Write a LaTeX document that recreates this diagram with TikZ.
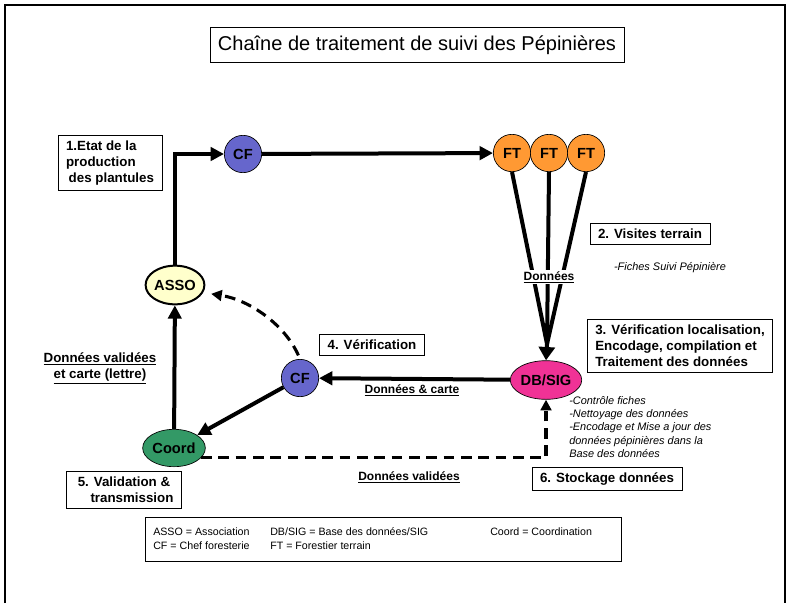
\documentclass[tikz,border=0pt]{standalone}
\usepackage{fontspec}
\setmainfont{Liberation Sans}
\usetikzlibrary{arrows.meta,shapes.geometric}

\definecolor{cfbleu}{RGB}{102,102,204}
\definecolor{ftorange}{RGB}{255,153,51}
\definecolor{dbrose}{RGB}{240,50,150}
\definecolor{assojaune}{RGB}{255,255,204}
\definecolor{coordvert}{RGB}{51,153,102}

\tikzset{
  titre/.style={draw, line width=0.6pt, inner xsep=6pt, inner ysep=6pt, font=\fontsize{15}{17}\selectfont},
  etape/.style={draw, fill=white, line width=0.6pt, align=left, inner xsep=6pt, inner ysep=4pt, font=\bfseries\fontsize{10}{12}\selectfont},
  rond/.style={circle, draw, line width=0.5pt, minimum size=28pt, inner sep=0pt, font=\bfseries\fontsize{11}{13}\selectfont},
  ovale/.style={ellipse, draw, line width=0.5pt, inner sep=0pt, font=\bfseries\fontsize{11}{13}\selectfont},
  fleche/.style={line width=3pt, -{Triangle[length=10pt,width=10pt]}},
  tirets/.style={line width=2.3pt, dash pattern=on 8pt off 5pt, -{Triangle[length=8pt,width=8pt]}},
  donnees/.style={font=\bfseries\fontsize{9}{12}\selectfont, align=center},
  note/.style={font=\itshape\fontsize{8.2}{10}\selectfont, align=left, inner sep=0pt},
  legende/.style={anchor=west, font=\fontsize{8}{10}\selectfont, inner sep=0pt}
}

\begin{document}
\begin{tikzpicture}[x=0.75pt,y=-0.75pt]
  \useasboundingbox (0,0) rectangle (791,603);
  %cadre
  \draw[line width=1.5pt] (5,603) -- (5,5) -- (785,5) -- (785,603);
  \node[titre] (titre) at (417,45) {Chaîne de traitement de suivi des Pépinières};

  %acteurs
  \node[rond, fill=cfbleu] (cfhaut) at (243,154) {CF};
  \node[rond, fill=ftorange] (ft1) at (512,153) {FT};
  \node[rond, fill=ftorange] (ft2) at (549,153) {FT};
  \node[rond, fill=ftorange] (ft3) at (586,153) {FT};
  \node[ovale, fill=dbrose, minimum width=51pt, minimum height=29pt] (dbsig) at (546,380) {DB/SIG};
  \node[rond, fill=cfbleu] (cfmilieu) at (300,378) {CF};
  \node[ovale, fill=assojaune, line width=1.5pt, minimum width=43pt, minimum height=29pt] (asso) at (175,285) {ASSO};
  \node[ovale, fill=coordvert, minimum width=47pt, minimum height=28pt] (coord) at (174,448) {Coord};

  %fleches
  \draw[fleche] (asso.north) |- (cfhaut.west);
  \draw[fleche] (cfhaut) -- (ft1);
  \coordinate (jonction) at (547,344);
  \draw[line width=3pt] (ft1.south) -- (jonction);
  \draw[line width=3pt] (ft2.south) -- (jonction);
  \draw[line width=3pt] (ft3.south) -- (jonction);
  \draw[line width=3pt, -{Triangle[length=10pt,width=12pt]}] (jonction) -- (dbsig.north);
  \node[donnees, fill=white, inner sep=1pt] (lbdonnees) at (549,277) {\underline{Données}};
  \draw[fleche] (dbsig) -- (cfmilieu);
  \draw[fleche] (cfmilieu) -- (coord);
  \draw[fleche] (coord) -- (asso);
  \draw[tirets, shorten <=3pt, shorten >=6pt] (cfmilieu.north) .. controls (285,325) and (250,300) .. (asso.-15);
  \draw[tirets] (coord.-20) -| (dbsig.south);

  %etiquettes
  \node[donnees] (lbcarte) at (412,390) {\underline{Données \& carte}};
  \node[donnees] (lbvalidees) at (409,477) {\underline{Données validées}};
  \node[donnees, font=\bfseries\fontsize{10}{12}\selectfont] (lblettre) at (100,368) {\underline{Données validées}\\\underline{et carte (lettre)}};

  %etapes
  \node[etape] (etape1) at (110,163) {1.Etat de la\\production\\\hspace{2pt}des plantules};
  \node[etape] (etape2) at (650,234) {2. Visites terrain};
  \node[note] (fiches) at (670,268) {-Fiches Suivi Pépinière};
  \node[etape] (etape3) at (680,346) {3. Vérification localisation,\\Encodage, compilation et\\Traitement des données};
  \node[note, anchor=north west] (controle) at (569,396) {-Contrôle fiches\\-Nettoyage des données\\-Encodage et Mise a jour des\\données pépinières dans la\\Base des données};
  \node[etape] (etape4) at (372,345) {4. Vérification};
  \node[etape, align=center] (etape5) at (124,490) {5. Validation \&\\\hspace{12pt}transmission};
  \node[etape] (etape6) at (607,479) {6. Stockage données};

  %legende
  \draw[line width=0.6pt] (145,517) rectangle (621,561);
  \node[legende] (l1) at (153,532) {ASSO = Association};
  \node[legende] (l2) at (153,546) {CF = Chef foresterie};
  \node[legende] (l3) at (270,532) {DB/SIG = Base des données/SIG};
  \node[legende] (l4) at (270,546) {FT = Forestier terrain};
  \node[legende] (l5) at (490,532) {Coord = Coordination};
\end{tikzpicture}
\end{document}
